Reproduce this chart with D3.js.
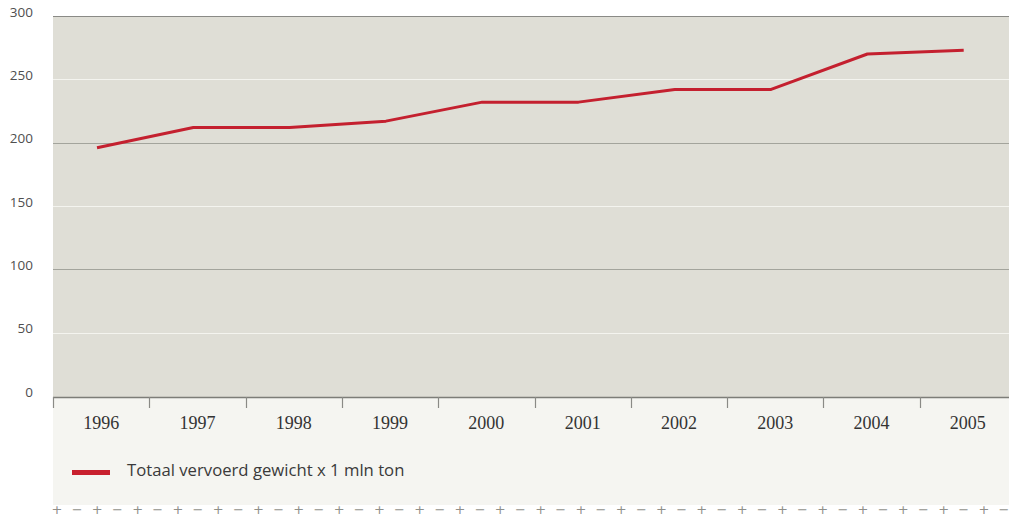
<!DOCTYPE html>
<html>
<head>
<meta charset="utf-8">
<script src="https://cdn.jsdelivr.net/npm/d3@7"></script>
<style>
  html, body { margin: 0; padding: 0; background: #ffffff; }
  svg { display: block; }
</style>
</head>
<body>
<svg id="chart" width="1009" height="517"></svg>
<script>
// Jaarlijks totaal vervoerd gewicht (x 1 mln ton)
const years = ["1996", "1997", "1998", "1999", "2000", "2001", "2002", "2003", "2004", "2005"];
const tonnage = [196, 212, 212, 217, 232, 232, 242, 242, 270, 273];
const yTicks = [0, 50, 100, 150, 200, 250, 300];
const seriesLabel = "Totaal vervoerd gewicht x 1 mln ton";

const svg = d3.select("#chart");
const plotLeft = 53, plotTop = 16, plotBottom = 397, bandW = 96.3;

const x = d3.scaleBand().domain(years).range([plotLeft, plotLeft + bandW * years.length]).padding(0);
const y = d3.scaleLinear().domain([0, 300]).range([plotBottom - 1, plotTop]);

// lower panel behind axis labels and legend
svg.append("rect").attr("x", plotLeft).attr("y", plotBottom).attr("width", 1009 - plotLeft).attr("height", 108)
  .attr("fill", "#f5f5f1");

// plot background
svg.append("rect").attr("x", plotLeft).attr("y", plotTop).attr("width", 1009 - plotLeft).attr("height", plotBottom - plotTop)
  .attr("fill", "#dfded6");

// gridlines: hundreds in grey, fifties in white
svg.append("g").selectAll("line").data(yTicks.filter(d => d > 0)).join("line")
  .attr("x1", plotLeft).attr("x2", 1009)
  .attr("y1", d => Math.round(y(d)) + 0.5).attr("y2", d => Math.round(y(d)) + 0.5)
  .attr("stroke", d => d === 300 ? "#8a8a86" : (d % 100 === 0 ? "#a3a49c" : "#f4f4ef"))
  .attr("stroke-width", 1.2);

// y tick labels
svg.append("g").selectAll("text").data(yTicks).join("text")
  .attr("x", 33).attr("y", d => y(d) + 0.5)
  .attr("text-anchor", "end")
  .attr("font-family", "'Open Sans', Lato, sans-serif")
  .attr("font-size", 13.5)
  .attr("fill", "#4f4f4f")
  .text(d => d);

// bottom axis
const xAxis = d3.axisBottom(x).tickSize(0).tickFormat(d => d);
const gx = svg.append("g").attr("transform", `translate(0,${plotBottom})`).call(xAxis);
gx.select(".domain").attr("stroke", "#7d7d78").attr("stroke-width", 1.5)
  .attr("d", `M${plotLeft},0.5H1009`);
gx.selectAll(".tick text")
  .attr("y", 19)
  .attr("font-family", "'Liberation Serif', 'DejaVu Serif', serif")
  .attr("font-size", 18)
  .attr("fill", "#333333");

// band separators on the axis
svg.append("g").selectAll("line").data(years).join("line")
  .attr("x1", d => Math.round(x(d)) + 0.5).attr("x2", d => Math.round(x(d)) + 0.5)
  .attr("y1", plotBottom).attr("y2", plotBottom + 11)
  .attr("stroke", "#8a8a86").attr("stroke-width", 1.2);

// series line
const pos = d => x(d) + bandW * 0.457;
const line = d3.line().x((d, i) => pos(years[i])).y(d => y(d));
svg.append("path").datum(tonnage)
  .attr("d", line)
  .attr("fill", "none")
  .attr("stroke", "#c4202f")
  .attr("stroke-width", 3)
  .attr("stroke-linejoin", "round");

// legend
svg.append("line").attr("x1", 72).attr("x2", 110).attr("y1", 472.5).attr("y2", 472.5)
  .attr("stroke", "#c8202e").attr("stroke-width", 5);
svg.append("text").attr("x", 127).attr("y", 475.5)
  .attr("font-family", "'Open Sans', Lato, sans-serif")
  .attr("font-size", 16.7)
  .attr("fill", "#3a3a3a")
  .text(seriesLabel);

// decorative plus/minus rule along the bottom
const marks = d3.range(0, 48);
svg.append("g").selectAll("text").data(marks).join("text")
  .attr("x", i => 57 + i * 20.15)
  .attr("y", 513.5)
  .attr("text-anchor", "middle")
  .attr("font-family", "'DejaVu Sans', sans-serif")
  .attr("font-size", 13)
  .attr("fill", "#8f8f8a")
  .text(i => i % 2 === 0 ? "+" : "\u2212");
</script>
</body>
</html>
